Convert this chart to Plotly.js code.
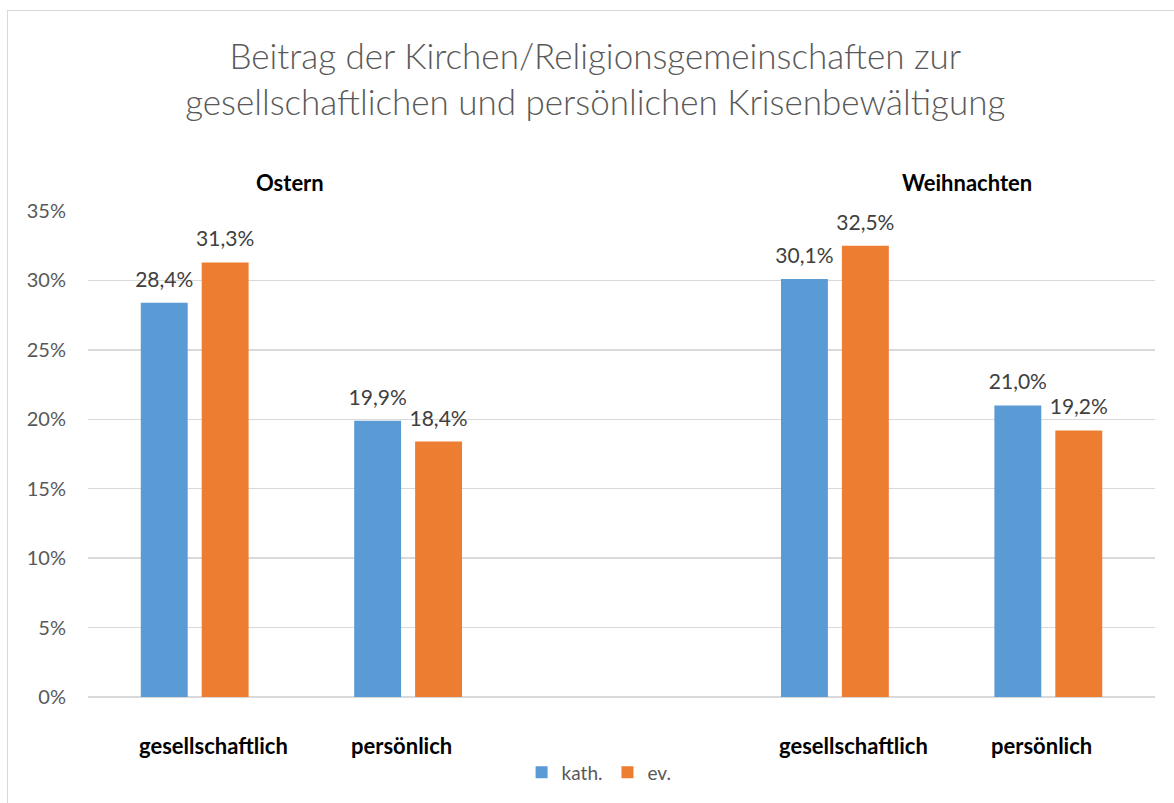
<!DOCTYPE html>
<html>
<head>
<meta charset="utf-8">
<script src="https://cdn.plot.ly/plotly-3.0.1.min.js"></script>
<style>
  html, body { margin: 0; padding: 0; background: #fff; }
  #wrap { position: relative; width: 1174px; height: 803px; overflow: hidden; }
  #frame { position: absolute; left: 7px; top: 10px; width: 1200px; height: 820px; border: 1.5px solid #d9d9d9; box-sizing: border-box; pointer-events: none; }
  #chart { position: absolute; left: 0; top: 0; width: 1174px; height: 803px; }
</style>
</head>
<body>
<div id="wrap">
  <div id="chart"></div>
  <div id="frame"></div>
</div>
<script>
// Data
const positions = [0, 1, 3, 4];
const categoryLabels = ["gesellschaftlich", "persönlich", "gesellschaftlich", "persönlich"];
const groupLabels = ["Ostern", "Weihnachten"];
const seriesNames = ["kath.", "ev."];
const kath = [0.284, 0.199, 0.301, 0.210];
const ev = [0.313, 0.184, 0.325, 0.192];
const yTicks = [0, 0.05, 0.10, 0.15, 0.20, 0.25, 0.30, 0.35];
const yTickText = ["0%", "5%", "10%", "15%", "20%", "25%", "30%", "35%"];

const fmt = v => (v * 100).toFixed(1).replace(".", ",") + "%";
const FONT = "Lato, 'Open Sans', sans-serif";

const traces = [
  { name: seriesNames[0], values: kath, color: "#5B9BD5" },
  { name: seriesNames[1], values: ev, color: "#ED7D31" }
].map(s => ({
  type: "bar",
  name: s.name,
  x: positions,
  y: s.values,
  marker: { color: s.color, line: { width: 0 } },
  text: s.values.map(fmt),
  textposition: "outside",
  constraintext: "none",
  cliponaxis: false,
  textfont: { family: FONT, size: 21, color: "#404040" },
  hoverinfo: "skip"
}));

// category label horizontal nudges (px) as seen in the reference
const labelShift = [19, -7, 19, -7];

const catAnnotations = categoryLabels.map((t, i) => ({
  text: "<b>" + t + "</b>",
  x: positions[i], xref: "x",
  y: 0, yref: "y",
  xshift: labelShift[i], yshift: -48,
  showarrow: false, xanchor: "center", yanchor: "middle",
  font: { family: FONT, size: 22, color: "#000000" }
}));

const groupAnnotations = [
  { text: "<b>" + groupLabels[0] + "</b>", x: 0.189, y: 1.058 },
  { text: "<b>" + groupLabels[1] + "</b>", x: 0.824, y: 1.058 }
].map(a => Object.assign(a, {
  xref: "paper", yref: "paper", showarrow: false,
  xanchor: "center", yanchor: "middle",
  font: { family: FONT, size: 22, color: "#000000" }
}));

const layout = {
  width: 1174,
  height: 803,
  paper_bgcolor: "#ffffff",
  plot_bgcolor: "#ffffff",
  margin: { l: 88, r: 19, t: 211, b: 106 },
  barmode: "group",
  bargap: 0.429,
  bargroupgap: 0.23,
  title: {
    text: "Beitrag der Kirchen/Religionsgemeinschaften zur<br>gesellschaftlichen und persönlichen Krisenbewältigung",
    font: { family: FONT, size: 35, color: "#595959", weight: 300 },
    x: 0.507, xanchor: "center",
    y: 0.914, yanchor: "middle", yref: "container"
  },
  xaxis: {
    range: [-0.5, 4.5],
    tickvals: positions,
    showticklabels: false,
    ticks: "",
    showgrid: false,
    zeroline: false,
    showline: false,
    fixedrange: true
  },
  yaxis: {
    range: [0, 0.35],
    tickvals: yTicks,
    ticktext: yTickText,
    tickfont: { family: FONT, size: 20, color: "#595959" },
    ticklabelstandoff: 21,
    showgrid: true,
    gridcolor: "#d9d9d9",
    gridwidth: 1.5,
    zeroline: true,
    zerolinecolor: "#d9d9d9",
    zerolinewidth: 1.5,
    showline: false,
    fixedrange: true
  },
  legend: {
    orientation: "h",
    x: 0.479, xanchor: "center",
    y: -0.155, yanchor: "middle",
    font: { family: FONT, size: 19, color: "#595959" },
    itemwidth: 30,
    traceorder: "normal"
  },
  annotations: catAnnotations.concat(groupAnnotations),
  showlegend: true
};

Plotly.newPlot("chart", traces, layout, { displayModeBar: false, staticPlot: true }).then(gd => {
  // lift the value labels a little further above the bars, as in the reference
  gd.querySelectorAll("text.bartext").forEach(el => {
    const t = el.getAttribute("transform") || "";
    el.setAttribute("transform", "translate(0,-9) " + t);
  });
});
</script>
</body>
</html>
